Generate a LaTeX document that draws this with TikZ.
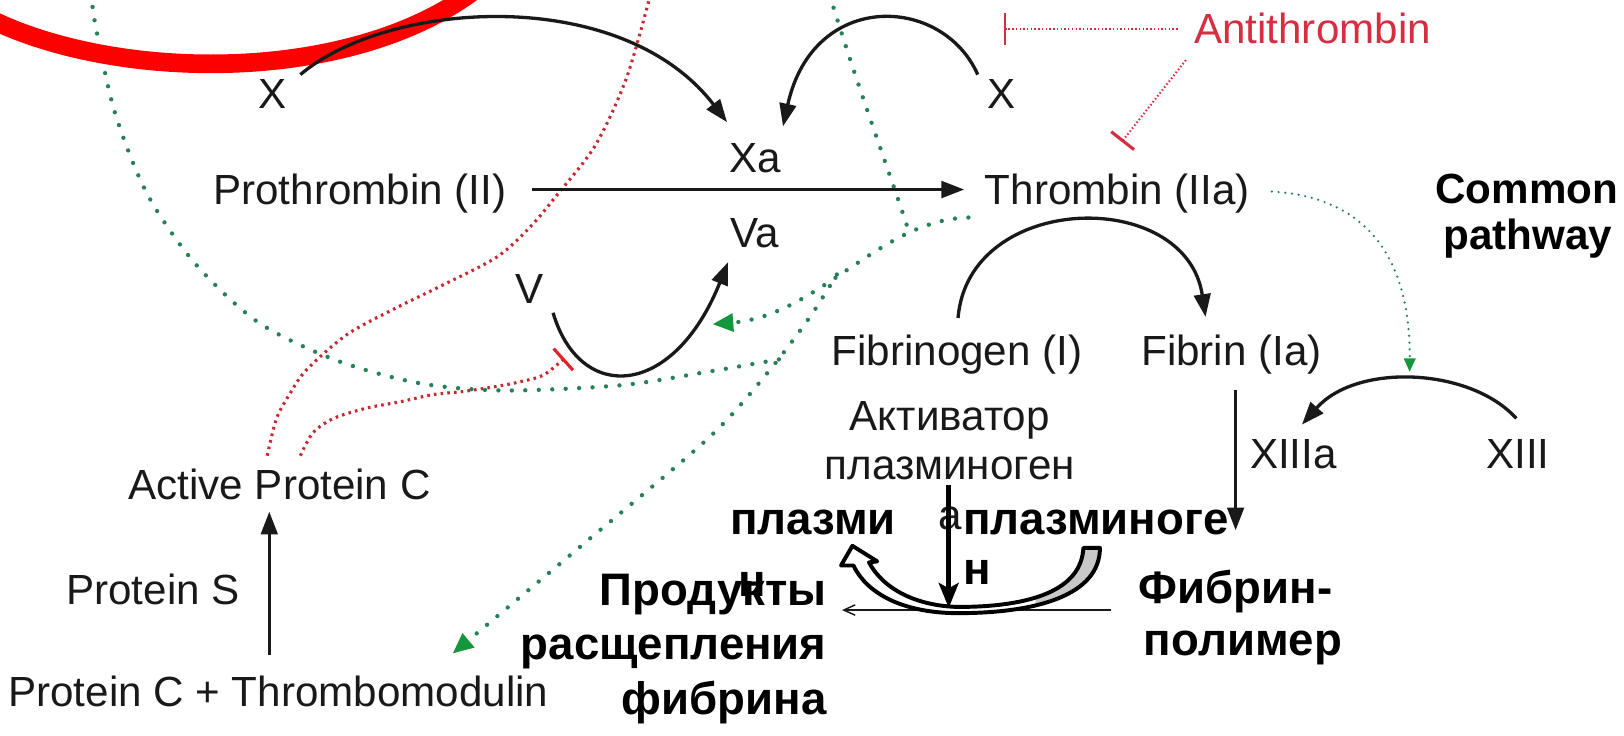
\documentclass[tikz,border=0pt]{standalone}
\usepackage{fontspec}
\setmainfont{Liberation Sans}
\usetikzlibrary{arrows.meta,calc}
\definecolor{gdot}{RGB}{40,128,88}
\definecolor{garr}{RGB}{20,150,60}
\definecolor{rdot}{RGB}{200,40,50}
\definecolor{rbar}{RGB}{225,35,40}
\definecolor{atred}{RGB}{215,45,65}
\definecolor{bandgray}{RGB}{200,200,200}
\definecolor{ink}{RGB}{25,25,25}
\definecolor{hired}{RGB}{255,0,0}
\begin{document}
\begin{tikzpicture}[x=1pt,y=-1pt,
  every node/.style={inner sep=0pt,outer sep=0pt},
  lbl/.style={font=\fontsize{40.7}{48}\selectfont,text=ink},
  blbl/.style={font=\fontsize{44}{52}\selectfont\bfseries,text=black},
  clbl/.style={font=\fontsize{40.7}{48}\selectfont\bfseries,text=black},
  conn/.style={draw=ink,line width=3.2pt,-{Triangle[length=22pt,width=16pt]}},
  gline/.style={draw=gdot,line width=4.2pt,line cap=round,dash pattern=on 0pt off 13pt},
  gfine/.style={draw=gdot,line width=2.4pt,line cap=round,dash pattern=on 0pt off 6.5pt},
  garrow/.style={-{Triangle[length=20pt,width=17pt,color=garr]}},
  rline/.style={draw=rdot,line width=3pt,dash pattern=on 2.5pt off 4pt},
  aline/.style={draw=atred,line width=2pt,dash pattern=on 1.4pt off 2.2pt},
  rbarend/.style={-{Bar[width=28pt,line width=3pt,color=rbar]}}
]
\useasboundingbox (0,0) rectangle (1568,710);
\clip (0,0) rectangle (1568,710);

% ---------- text nodes ----------
\node[lbl,anchor=base] (xl) at (263,105) {X};
\node[lbl,anchor=base west] (pro) at (206,197) {Prothrombin (II)};
\node[lbl,anchor=base] (xa) at (729,167) {Xa};
\node[lbl,anchor=base] (va) at (729,239) {Va};
\node[lbl,anchor=base west] (thr) at (951,197) {Thrombin (IIa)};
\node[lbl,anchor=base] (xr) at (967,105) {X};
\node[lbl,anchor=base west,text=atred] (at) at (1153,42) {Antithrombin};
\node[clbl,anchor=base] (com1) at (1474,196) {Common};
\node[clbl,anchor=base] (com2) at (1475,241) {pathway};
\node[lbl,anchor=base] (v) at (511,293) {V};
\node[lbl,anchor=base west] (fgen) at (803,353) {Fibrinogen (I)};
\node[lbl,anchor=base west] (fib) at (1102,353) {Fibrin (Ia)};
\node[lbl,anchor=base west] (apc) at (124,482) {Active Protein C};
\node[lbl,anchor=base west] (ps) at (64,584) {Protein S};
\node[lbl,anchor=base west] (pctm) at (8,682) {Protein C + Thrombomodulin};
\node[lbl,anchor=base west] (x13a) at (1207,452) {XIIIa};
\node[lbl,anchor=base west] (x13) at (1435,452) {XIII};

\node[lbl,anchor=base] (akt1) at (917,416) {Активатор};
\node[lbl,anchor=base] (akt2) at (917,463) {плазминоген};
\node[lbl,anchor=base] (akt3) at (917,511) {а};
\node[blbl,anchor=base west] (plm1) at (705,516) {плазми};
\node[blbl,anchor=base west] (plm2) at (713,576) {н};
\node[blbl,anchor=base west] (plg1) at (930,516) {плазминоге};
\node[blbl,anchor=base west] (plg2) at (930,564) {н};
\node[blbl,anchor=base east] (prod1) at (798,585) {Продукты};
\node[blbl,anchor=base east] (prod2) at (798,637) {расщепления};
\node[blbl,anchor=base east] (prod3) at (798,690) {фибрина};
\node[blbl,anchor=base] (fp1) at (1193,583) {Фибрин-};
\node[blbl,anchor=base] (fp2) at (1200,633) {полимер};

% ---------- green dotted (thrombin feedback) ----------
\coordinate (thrG) at (935,210);
\coordinate (vaG) at (688,313);
\coordinate (topXI) at (801,-5);
\coordinate (joinXI) at (877,222);
\coordinate (brPC) at (808,265);
\coordinate (pcG) at (437,631);
\coordinate (brVIII) at (752,347);
\coordinate (topVIII) at (88,-5);
\draw[gline,garrow] (thrG) .. controls (850,212) and (790,305) .. (vaG);
\draw[gline] (topXI) .. controls (830,90) and (862,175) .. (joinXI);
\draw[gline,garrow] plot[smooth] coordinates {(brPC) (782,306) (741,360) (684,423) (560,528) (pcG)};
\draw[gline] plot[smooth] coordinates {(brVIII) (683,359) (599,372) (486,377) (405,370) (325,348) (249,311) (188,254) (142,187) (111,109) (93,29) (topVIII)};
\coordinate (thrR) at (1228,185);
\coordinate (x13G) at (1361,359);
\draw[gfine,-{Triangle[length=13pt,width=11pt,color=garr]}] (thrR) .. controls (1320,190) and (1362,250) .. (x13G);

% ---------- red dotted (Active Protein C) ----------
\coordinate (apcA) at (258,440);
\coordinate (apcB) at (290,440);
\coordinate (topR) at (628,-5);
\coordinate (vBar) at (545,346);
\draw[rline] plot[smooth] coordinates {(apcA) (267,404) (280,380) (296,357) (335,323) (383,297) (428,275) (480,248) (512,219) (538,188) (575,140) (605,75) (topR)};
\draw[rline,rbarend] plot[smooth] coordinates {(apcB) (302,418) (322,404) (354,394) (386,388) (418,381) (447,378) (480,373) (505,368) (525,362) (vBar)};

% ---------- antithrombin ----------
\coordinate (atL) at (1137,28);
\coordinate (atBar1) at (969,28);
\coordinate (atD) at (1145,58);
\coordinate (atBar2) at (1083,137);
\draw[aline,-{Bar[width=30pt,line width=2.5pt,color=atred]}] (atL) -- (atBar1);
\draw[aline,-{Bar[width=28pt,line width=3pt,color=atred]}] (atD) -- (atBar2);

% ---------- red highlight arc ----------
\draw[hired,line width=18pt] (-20,13) .. controls (100,78) and (330,84) .. (455,-7);

% ---------- black connectors ----------
\coordinate (xlS) at (290,72);
\coordinate (xaL) at (702,118);
\coordinate (xrS) at (944,72);
\coordinate (xaR) at (756,122);
\draw[conn] (xlS) .. controls (375,0) and (600,-15) .. (xaL);
\draw[conn] (xrS) .. controls (910,-5) and (785,-10) .. (xaR);
\draw[conn] ($(pro.base east)+(25,-14)$) -- ($(thr.base west)+(-20,-14)$);
\coordinate (vS) at (534,302);
\coordinate (vaE) at (703,253);
\draw[conn] (vS) .. controls (560,390) and (650,385) .. (vaE);
\coordinate (fgS) at (925,307);
\coordinate (fbE) at (1164,306);
\draw[conn] (fgS) .. controls (935,185) and (1145,180) .. (fbE);
\coordinate (x13S) at (1464,404);
\coordinate (x13aE) at (1257,410);
\draw[conn] (x13S) .. controls (1420,355) and (1310,350) .. (x13aE);
\coordinate (fibD) at (1193,377);
\coordinate (fpT) at (1193,512);
\draw[conn] (fibD) -- (fpT);
\coordinate (pctmT) at (260,632);
\coordinate (apcBot) at (260,494);
\draw[conn] (pctmT) -- (apcBot);

% ---------- fibrinolysis ----------
\coordinate (hR) at (1073,589);
\coordinate (hL) at (813,589);
\draw[ink,line width=1.6pt,-{Straight Barb[length=11pt,width=10pt,line width=1.4pt]}] (hR) -- (hL);
\def\bandpath{(1062,529) .. controls (1062,575) and (1000,592) .. (925,592)
  .. controls (875,592) and (838,575) .. (824,546)
  -- (812,546) -- (823,527) -- (847,542) -- (839,543)
  .. controls (853,569) and (885,585) .. (925,586)
  .. controls (995,586) and (1044,570) .. (1046,529) -- cycle}
\fill[white] \bandpath;
\begin{scope}
  \clip (1000,500) rectangle (1100,600);
  \fill[bandgray] \bandpath;
\end{scope}
\draw[black,line width=3.8pt,line join=round] \bandpath;
\coordinate (aktD) at (916,468);
\coordinate (aktE) at (916,587);
\draw[black,line width=5pt,-{Stealth[length=24pt,width=19pt,inset=5pt]}] (aktD) -- (aktE);
\end{tikzpicture}
\end{document}
